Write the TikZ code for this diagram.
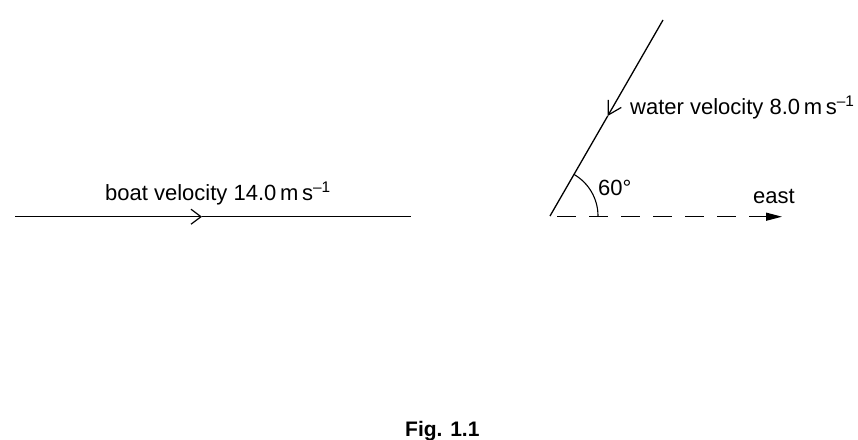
\documentclass[tikz,border=0pt]{standalone}
\usepackage{fontspec}
\setmainfont{Liberation Sans}
\usetikzlibrary{arrows.meta}
\begin{document}
\begin{tikzpicture}[x=1pt,y=-1pt,
  vec/.style={line width=1.3pt},
  lbl/.style={anchor=base west,inner sep=0pt,font=\fontsize{22}{26}\selectfont}]
\useasboundingbox (0,0) rectangle (858,439);
% boat velocity
\coordinate (b0) at (15,216.7);
\coordinate (bm) at (202,216.7);
\coordinate (b1) at (411,216.7);
\draw[vec,-{Straight Barb[length=10pt,width=15pt,line width=1.2pt]}] (b0) -- (bm);
\draw[vec] (bm) -- (b1);
\node[lbl] (bl) at (105,200) {boat velocity 14.0\,m\,s\textsuperscript{–1}};
% water velocity
\coordinate (o) at (550,216);
\coordinate (wt) at (663,20);
\coordinate (wm) at (607.7,116);
\draw[vec,-{Straight Barb[length=13pt,width=15pt,line width=1.2pt]}] (wt) -- (wm);
\draw[vec] (wm) -- (o);
\node[lbl] (wl) at (630,114) {water velocity 8.0\,m\,s\textsuperscript{–1}};
% angle
\draw[line width=1.1pt] (598,216) arc[start angle=0,end angle=-60,radius=48];
\node[lbl] (al) at (598,195) {60°};
% east
\coordinate (e0) at (557,216.7);
\coordinate (e1) at (767,216.7);
\coordinate (e2) at (782,216.7);
\draw[vec,dash pattern=on 18.5pt off 13.5pt] (e0) -- (e1);
\draw[vec,-{Triangle[length=16pt,width=8pt]}] (765,216.7) -- (e2);
\node[lbl] (el) at (753,203) {east};
% caption
\node[lbl,font=\fontsize{21}{26}\selectfont\bfseries] (cap) at (405,436) {Fig. 1.1};
\end{tikzpicture}
\end{document}
